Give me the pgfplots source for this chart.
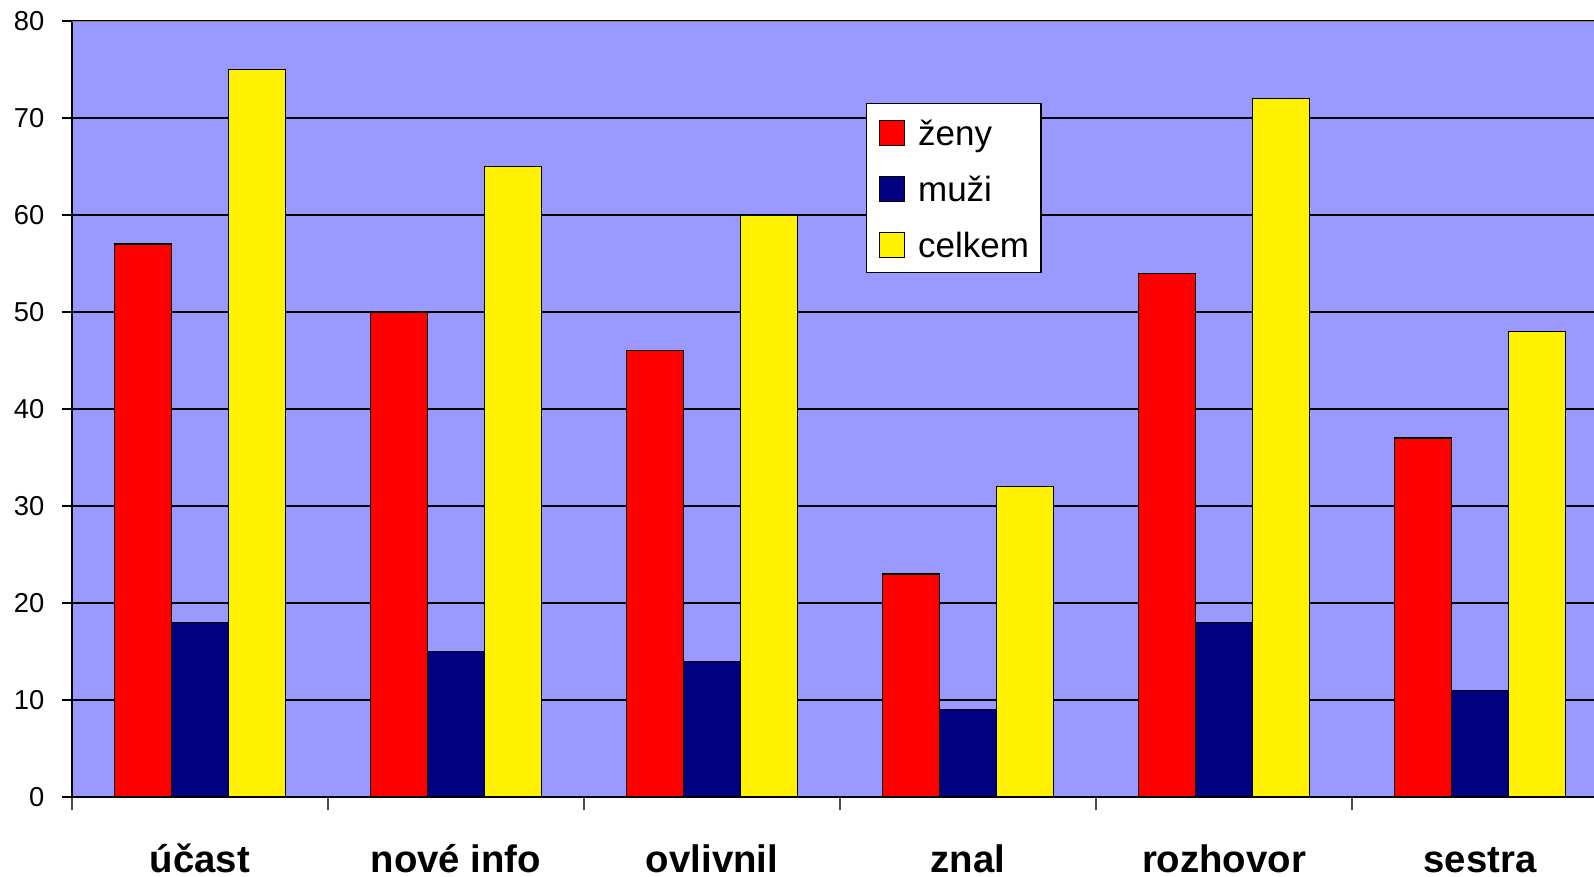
\documentclass[border=0pt]{standalone}
\usepackage{pgfplots}
\pgfplotsset{compat=1.18}
\usepackage{fontspec}
\setmainfont{Liberation Sans}
\usetikzlibrary{calc}
\definecolor{bg}{RGB}{153,153,255}
\definecolor{navy}{RGB}{0,0,128}
\begin{document}
\begin{tikzpicture}
\begin{axis}[
  scale only axis, width=460.8pt, height=232.8pt,
  ybar=0pt, bar width=17.1pt,
  xmin=-0.5, xmax=5.5, ymin=0, ymax=80,
  enlargelimits=false,
  axis x line*=bottom, axis y line*=left,
  axis line style={black, line width=0.5pt},
  axis background/.style={fill=bg},
  ytick={0,10,...,80},
  ymajorgrids, grid style={black, line width=0.4pt},
  xtick={0,...,5},
  xticklabels={účast, nové info, ovlivnil, znal, rozhovor, sestra},
  minor xtick={-0.5,0.5,...,5.5},
  major x tick style={draw=none},
  minor x tick style={black!70, line width=0.4pt},
  minor tick length=4pt, major tick length=3pt,
  tick align=outside,
  y tick style={black, line width=0.4pt},
  /pgf/number format/assume math mode=true,
  yticklabel style={font=\fontsize{8.2}{9.8}\selectfont, inner sep=0pt, xshift=-5.1pt},
  xticklabel style={font=\bfseries\fontsize{11.5}{13.8}\selectfont, anchor=base, yshift=-19.7pt},
  legend style={at={(axis description cs:0.517,0.8943)}, anchor=north west,
    draw=black, fill=white, line width=0.4pt,
    font=\fontsize{10.5}{12.6}\selectfont,
    inner xsep=3.6pt, inner ysep=3.3pt, row sep=6.3pt, column sep=3.9pt,
    nodes={inner sep=0pt, text height=9.3pt, text depth=1.2pt}},
  legend cell align=left,
  legend image code/.code={\draw[#1, draw=black, line width=0.4pt] (0pt,-4.05pt) rectangle (7.5pt,3.45pt);},
]
\addplot[fill=red, draw=black, line width=0.4pt] coordinates {(0,57) (1,50) (2,46) (3,23) (4,54) (5,37)};
\addplot[fill=navy, draw=black, line width=0.4pt] coordinates {(0,18) (1,15) (2,14) (3,9) (4,18) (5,11)};
\addplot[fill=yellow, draw=black, line width=0.4pt] coordinates {(0,75) (1,65) (2,60) (3,32) (4,72) (5,48)};
\legend{ženy, muži, celkem}
\draw[gray, line width=0.6pt] (rel axis cs:0,1) -- (rel axis cs:1,1);
\coordinate (sw) at (rel axis cs:0,0);
\coordinate (ne) at (rel axis cs:1,1);
\end{axis}
\pgfresetboundingbox
\useasboundingbox ($(sw)+(-21.6pt,-24pt)$) rectangle ($(sw|-ne)+(456.6pt,6.3pt)$);
\end{tikzpicture}
\end{document}
